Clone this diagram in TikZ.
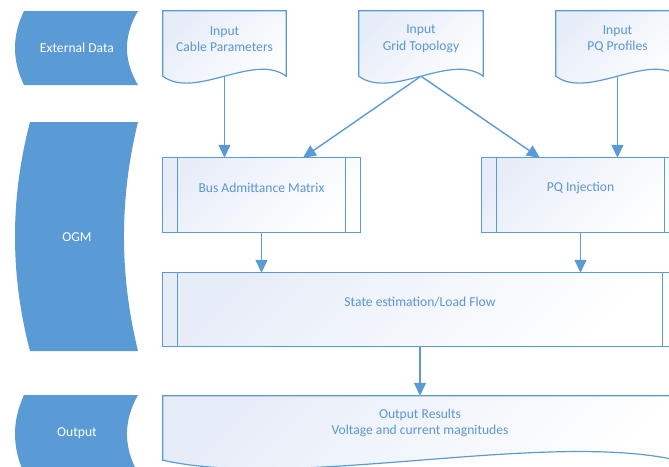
\documentclass[tikz,border=0pt]{standalone}
\usepackage{fontspec}
\setmainfont{Carlito}
\usetikzlibrary{arrows.meta,calc}

\definecolor{lane}{HTML}{5B9BD5}
\definecolor{edge}{HTML}{5B9BD5}
\definecolor{ink}{HTML}{5B96D2}
\definecolor{tint}{HTML}{E7EDF8}

\pgfdeclarelayer{links}
\pgfdeclarelayer{shapes}
\pgfsetlayers{links,shapes,main}

\tikzset{
  frame/.style={draw=none, inner sep=0pt, minimum width=#1},
  lbl/.style={text=ink, align=center, inner sep=0pt,
    font=\fontsize{13.6}{16.5}\selectfont},
  lanelbl/.style={text=white, align=center, inner sep=0pt,
    font=\fontsize{13.6}{16.5}\selectfont},
  boxline/.style={draw=edge, line width=1.2pt,
    top color=tint, bottom color=white, shading angle=45},
  lanefill/.style={fill=lane, draw=none},
  link/.style={draw=edge, line width=1.4pt,
    -{Triangle[length=13pt,width=12pt]}},
}

% document shape: flat top, wavy bottom
\newcommand\docshape[2]{%
  \path[boxline] (#1.north west) -- (#1.north east) -- (#1.south east)
    .. controls ($(#1.south west)!0.74!(#1.south east)+(0,-#2)$)
            and ($(#1.south west)!0.26!(#1.south east)+(0,#2)$) .. (#1.south west)
    -- cycle;}

% predefined process: rectangle with inner side bars
\newcommand\procshape[1]{%
  \path[boxline] (#1.north west) rectangle (#1.south east);
  \draw[edge, line width=1.2pt]
    ($(#1.north west)+(15,0)$) -- ($(#1.south west)+(15,0)$)
    ($(#1.north east)+(-15,0)$) -- ($(#1.south east)+(-15,0)$);}

\begin{document}
\begin{tikzpicture}[x=1pt,y=-1pt]
\useasboundingbox (0,0) rectangle (669,466);
\clip (0,0) rectangle (669,466);

% ---- lane headers ----
\node[lanelbl] (laneext) at (77,48) {External Data};
\node[lanelbl] (laneogm) at (77,237) {OGM};
\node[lanelbl] (laneout) at (77,433) {Output};

\begin{pgfonlayer}{shapes}
  \path[lanefill] (24,11) -- (138,11)
    .. controls (123.3,35.7) and (123.3,60.3) .. (138,85) -- (24,85)
    .. controls (12,60.3) and (12,35.7) .. (24,11) -- cycle;
  \path[lanefill] (30,122) -- (138,122)
    .. controls (119.3,198.3) and (119.3,274.7) .. (138,351) -- (30,351)
    .. controls (10,274.7) and (10,198.3) .. (30,122) -- cycle;
  \path[lanefill] (24,395) -- (138,395)
    .. controls (123.3,421) and (123.3,447) .. (138,473) -- (24,473)
    .. controls (12,447) and (12,421) .. (24,395) -- cycle;
\end{pgfonlayer}

% ---- box frames ----
\node[frame=123pt, minimum height=65pt] (cable) at (224.5,43.5) {};
\node[frame=124pt, minimum height=65pt] (grid)  at (421,43.5) {};
\node[frame=123pt, minimum height=65pt] (pqp)   at (617.5,43.5) {};
\node[frame=197pt, minimum height=74pt] (bus)   at (261.5,195) {};
\node[frame=197pt, minimum height=74pt] (pqi)   at (580.5,195) {};
\node[frame=514pt, minimum height=73pt] (state) at (420,309.5) {};
\node[frame=514pt, minimum height=64pt] (out)   at (420,428) {};

% ---- box texts ----
\node[lbl] (cablet) at (224.5,39) {Input\\Cable Parameters};
\node[lbl] (gridt)  at (421,39)   {Input\\Grid Topology};
\node[lbl] (pqpt)   at (617.5,39) {Input\\PQ Profiles};
\node[lbl] (bust)   at (261.5,188) {Bus Admittance Matrix};
\node[lbl] (pqit)   at (580.5,188) {PQ Injection};
\node[lbl] (statet) at (420,302)  {State estimation/Load Flow};
\node[lbl] (outt)   at (420,423)  {Output Results\\Voltage and current magnitudes};

\begin{pgfonlayer}{shapes}
  \docshape{cable}{24}
  \docshape{grid}{24}
  \docshape{pqp}{24}
  \procshape{bus}
  \procshape{pqi}
  \procshape{state}
  \docshape{out}{30}
\end{pgfonlayer}

% ---- connectors ----
\begin{pgfonlayer}{links}
  \draw[link] (cable.south) -- (cable.south |- bus.north);
  \draw[link] (grid.south) -- ($(bus.north west)!0.71!(bus.north east)$);
  \draw[link] (grid.south) -- ($(pqi.north west)!0.294!(pqi.north east)$);
  \draw[link] (pqp.south) -- (pqp.south |- pqi.north);
  \draw[link] (bus.south) -- (bus.south |- state.north);
  \draw[link] (pqi.south) -- (pqi.south |- state.north);
  \draw[link] (state.south) -- (out.north);
\end{pgfonlayer}
\end{tikzpicture}
\end{document}
